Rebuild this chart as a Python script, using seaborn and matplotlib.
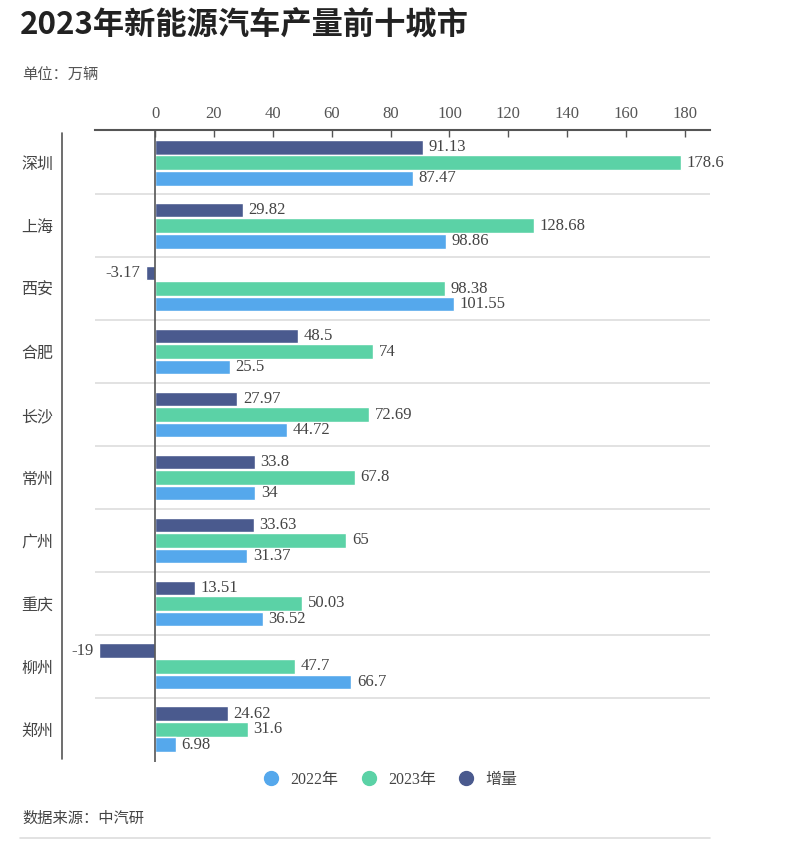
import pandas as pd
import matplotlib.pyplot as plt
import seaborn as sns
from matplotlib.lines import Line2D

# Dados (unidade: 万辆)
cities = ['深圳', '上海', '西安', '合肥', '长沙', '常州', '广州', '重庆', '柳州', '郑州']
v2022 = [87.47, 98.86, 101.55, 25.5, 44.72, 34, 31.37, 36.52, 66.7, 6.98]
v2023 = [178.6, 128.68, 98.38, 74, 72.69, 67.8, 65, 50.03, 47.7, 31.6]
incr = [91.13, 29.82, -3.17, 48.5, 27.97, 33.8, 33.63, 13.51, -19, 24.62]
xticks = [0, 20, 40, 60, 80, 100, 120, 140, 160, 180]

series = ['增量', '2023年', '2022年']
colors = {'增量': '#4a5a8e', '2023年': '#5bd2a6', '2022年': '#55a8ec'}

df = pd.concat([
    pd.DataFrame({'city': cities, 'series': '增量', 'value': incr}),
    pd.DataFrame({'city': cities, 'series': '2023年', 'value': v2023}),
    pd.DataFrame({'city': cities, 'series': '2022年', 'value': v2022}),
])

sns.set_style('white')
plt.rcParams['font.family'] = ['Noto Sans CJK SC', 'DejaVu Sans']
num_font = ['Liberation Serif', 'Noto Sans CJK SC']

fig = plt.figure(figsize=(8, 8.52), dpi=100)
ax = fig.add_axes([95 / 800, 1 - 762 / 852, 615 / 800, 632 / 852])

sns.barplot(data=df, x='value', y='city', hue='series', hue_order=series,
            palette=colors, orient='h', width=0.74, gap=0.06, legend=False,
            ax=ax, saturation=1)

# rotulos de valor
for cont, s in zip(ax.containers, series):
    vals = df[df['series'] == s]['value'].tolist()
    ax.bar_label(cont, labels=[f'{v:g}' for v in vals], padding=4,
                 fontsize=12, color='#444444', family=num_font)

ax.set_xlim(-20.4, 188.5)
ax.set_ylim(9.52, -0.52)

# eixo superior
ax.xaxis.tick_top()
ax.set_xticks(xticks)
ax.set_xticklabels([str(t) for t in xticks], family=num_font, fontsize=12, color='#555555')
ax.tick_params(axis='x', direction='in', length=5, width=1, color='#555555', pad=6)
ax.tick_params(axis='y', length=0, pad=30, labelsize=11.5, labelcolor='#444444')
ax.set_xlabel('')
ax.set_ylabel('')

for sp in ['left', 'right', 'bottom']:
    ax.spines[sp].set_visible(False)
ax.spines['top'].set_color('#555555')
ax.spines['top'].set_linewidth(1.5)

# separadores entre cidades
for i in range(len(cities) - 1):
    ax.axhline(i + 0.5, color='#dddddd', lw=1.2, zorder=0)
ax.axvline(0, color='#555555', lw=1.2, zorder=3)
ax.plot([-0.054, -0.054], [0.004, 0.995], transform=ax.transAxes,
        color='#555555', lw=1.2, clip_on=False)

# titulo e notas
fig.text(20 / 800, 1 - 26 / 852, '2023年新能源汽车产量前十城市', fontsize=22.5,
         fontweight='bold', color='#222222', va='center', ha='left')
fig.text(22 / 800, 1 - 75 / 852, '单位：万辆', fontsize=11, color='#555555',
         va='center', ha='left')
fig.text(22 / 800, 1 - 818 / 852, '数据来源：中汽研', fontsize=11, color='#444444',
         va='center', ha='left')
fig.add_artist(Line2D([20 / 800, 710 / 800], [1 - 838 / 852, 1 - 838 / 852],
                      color='#dddddd', lw=1.2))

handles = [Line2D([], [], marker='o', ls='', markersize=10,
                  markerfacecolor=colors[s], markeredgecolor=colors[s])
           for s in ['2022年', '2023年', '增量']]
leg = fig.legend(handles, ['2022年', '2023年', '增量'], loc='center',
                 bbox_to_anchor=(0.483, 1 - 780 / 852), ncol=3, frameon=False,
                 prop={'family': num_font, 'size': 11.5},
                 handletextpad=0.2, columnspacing=0.9)
for t in leg.get_texts():
    t.set_color('#444444')

fig.savefig('out.png', dpi=100)
